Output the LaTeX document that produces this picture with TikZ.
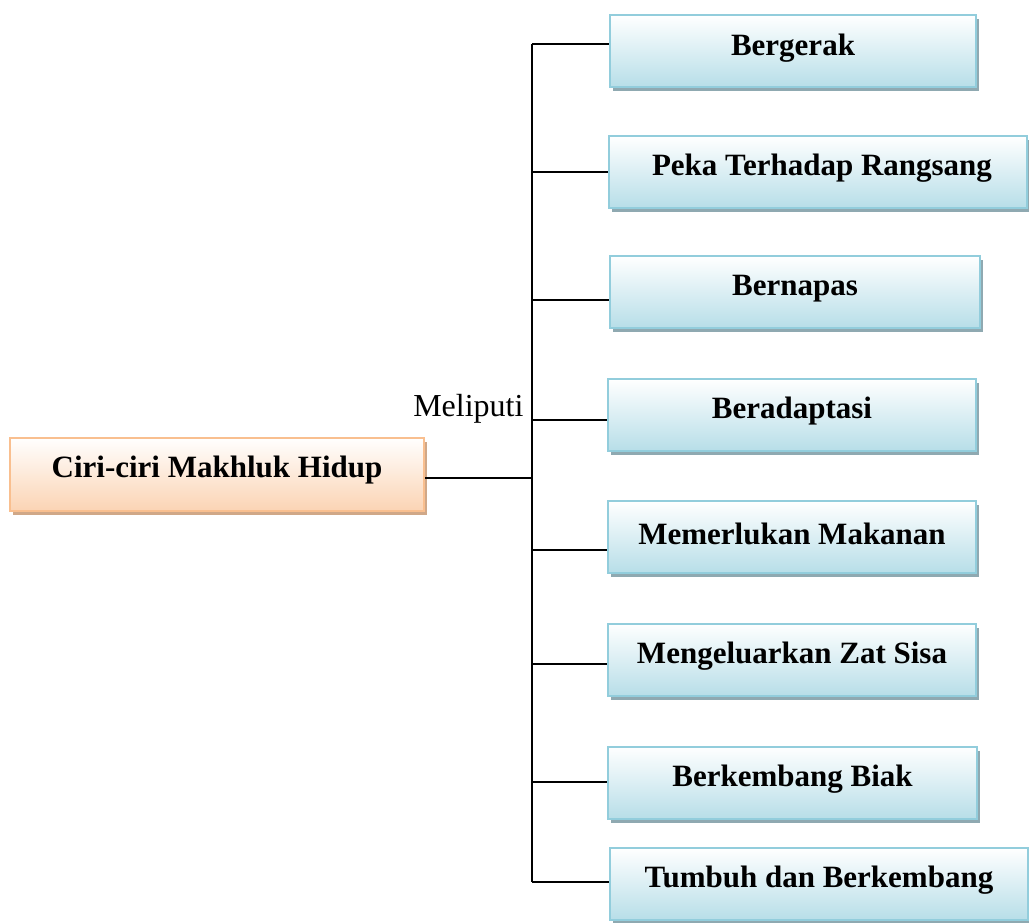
\documentclass[tikz,border=0pt]{standalone}
\usepackage{fontspec}
\setmainfont{Liberation Serif}
\usetikzlibrary{shadows}
\definecolor{bborder}{HTML}{92CDDC}
\definecolor{bbottom}{HTML}{B7DEE8}
\definecolor{bshadow}{HTML}{8FA9B1}
\definecolor{oborder}{HTML}{F9BF8F}
\definecolor{obottom}{HTML}{FBD4B4}
\definecolor{oshadow}{HTML}{D0A888}
\tikzset{
  bluebox/.style={draw=bborder, line width=2pt, top color=white, bottom color=bbottom,
    drop shadow={shadow xshift=3pt, shadow yshift=-4pt, fill=bshadow, opacity=1},
    minimum height=72pt, inner sep=0pt},
  orangebox/.style={draw=oborder, line width=2pt, top color=white, bottom color=obottom,
    drop shadow={shadow xshift=3pt, shadow yshift=-4pt, fill=oshadow, opacity=1},
    minimum height=73pt, minimum width=414pt, inner sep=0pt},
  lbl/.style={font=\fontsize{31}{36}\selectfont\bfseries},
  conn/.style={line width=2pt, black},
}
\begin{document}
\begin{tikzpicture}[x=1pt,y=-1pt]
\useasboundingbox (0,0) rectangle (1029,923);
% left box
\node[orangebox, label={[lbl,yshift=3.5pt]center:Ciri-ciri Makhluk Hidup}] (L) at (217,474) {};
% right boxes
\node[bluebox, minimum width=366pt, label={[lbl,yshift=3.5pt]center:Bergerak}] (B1) at (793,51.5) {};
\node[bluebox, minimum width=418pt, label={[lbl,yshift=3.5pt,xshift=4pt]center:Peka Terhadap Rangsang}] (B2) at (818,172) {};
\node[bluebox, minimum width=370pt, label={[lbl,yshift=3.5pt]center:Bernapas}] (B3) at (795,292) {};
\node[bluebox, minimum width=368pt, label={[lbl,yshift=3.5pt]center:Beradaptasi}] (B4) at (792,415) {};
\node[bluebox, minimum width=368pt, label={[lbl,yshift=3.5pt]center:Memerlukan Makanan}] (B5) at (792,537) {};
\node[bluebox, minimum width=368pt, label={[lbl,yshift=3.5pt]center:Mengeluarkan Zat Sisa}] (B6) at (792,659.5) {};
\node[bluebox, minimum width=369pt, label={[lbl,yshift=3.5pt]center:Berkembang Biak}] (B7) at (792.5,782.5) {};
\node[bluebox, minimum width=418pt, label={[lbl,yshift=3.5pt]center:Tumbuh dan Berkembang}] (B8) at (819,884) {};
% spine
\coordinate (top) at (532,44);
\coordinate (bot) at (532,882);
\draw[conn] (top) -- (bot);
\coordinate (s1) at (532,44);
\coordinate (s2) at (532,172);
\coordinate (s3) at (532,300);
\coordinate (s4) at (532,420);
\coordinate (s5) at (532,550);
\coordinate (s6) at (532,664);
\coordinate (s7) at (532,782);
\coordinate (s8) at (532,882);
\coordinate (sL) at (532,478);
\draw[conn] (s1) -- (s1 -| B1.west);
\draw[conn] (s2) -- (s2 -| B2.west);
\draw[conn] (s3) -- (s3 -| B3.west);
\draw[conn] (s4) -- (s4 -| B4.west);
\draw[conn] (s5) -- (s5 -| B5.west);
\draw[conn] (s6) -- (s6 -| B6.west);
\draw[conn] (s7) -- (s7 -| B7.west);
\draw[conn] (s8) -- (s8 -| B8.west);
\draw[conn] (sL) -- (sL -| L.east);
\node[font=\fontsize{32}{36}\selectfont, anchor=base east] (M) at (527,416) {Meliputi};
\end{tikzpicture}
\end{document}
